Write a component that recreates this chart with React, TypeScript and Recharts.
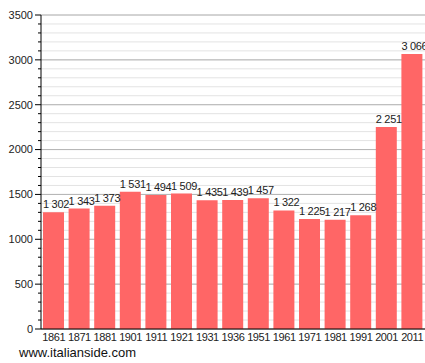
import { BarChart, Bar, XAxis, YAxis, CartesianGrid, LabelList } from 'recharts';

const years = ['1861', '1871', '1881', '1901', '1911', '1921', '1931', '1936', '1951', '1961', '1971', '1981', '1991', '2001', '2011'];
const population = [1302, 1343, 1373, 1531, 1494, 1509, 1435, 1439, 1457, 1322, 1225, 1217, 1268, 2251, 3066];
const majorTicks = [0, 500, 1000, 1500, 2000, 2500, 3000, 3500];
const minorTicks = Array.from({ length: 36 }, (_, i) => i * 100);

const data = years.map((year, i) => ({ year, value: population[i] }));

const FONT = '"Liberation Sans", Arial, sans-serif';

const fmt = (v: number) => String(v).replace(/\B(?=(\d{3})+(?!\d))/g, '\u00a0');

function YTick(props: any) {
  const { x, y, payload } = props;
  const major = payload.value % 500 === 0;
  return (
    <g>
      <line x1={major ? x - 6 : x - 3} x2={x} y1={y} y2={y} stroke="#000" />
      {major && (
        <text x={x - 8} y={y} dy="0.35em" textAnchor="end" fontSize={11} fill="#222" fontFamily={FONT}>
          {payload.value}
        </text>
      )}
    </g>
  );
}

// value labels sit left-aligned on the bar's left edge, like the original
function ValueLabel(props: any) {
  const { x, y, value } = props;
  return (
    <text x={x} y={y - 4} textAnchor="start" fontSize={11} fill="#222" fontFamily={FONT} letterSpacing={-0.3}>
      {fmt(Number(value))}
    </text>
  );
}

export default function App() {
  return (
    <div style={{ position: 'absolute', left: 0, top: 0, width: 425, height: 363, background: '#fff' }}>
      <BarChart width={425} height={363} data={data} margin={{ top: 15, right: 0, bottom: 0, left: 0 }}>
        <CartesianGrid vertical={false} stroke="#e3e3e3" horizontalValues={minorTicks} />
        <CartesianGrid vertical={false} stroke="#b4b4b4" horizontalValues={majorTicks} />
        <XAxis
          dataKey="year"
          height={34}
          tickLine={false}
          tickSize={0}
          tickMargin={4}
          axisLine={{ stroke: '#000' }}
          tick={{ fontSize: 11, fill: '#222', fontFamily: FONT, letterSpacing: -0.4 }}
          interval={0}
        />
        <YAxis
          width={41}
          domain={[0, 3500]}
          ticks={minorTicks}
          interval={0}
          tickLine={false}
          tickSize={0}
          tickMargin={0}
          axisLine={{ stroke: '#000' }}
          tick={<YTick />}
        />
        <Bar dataKey="value" fill="#ff6666" barSize={21} isAnimationActive={false}>
          <LabelList dataKey="value" content={<ValueLabel />} />
        </Bar>
      </BarChart>
      <div style={{ position: 'absolute', left: 19, top: 345, fontSize: 13, fontFamily: FONT, color: '#111', lineHeight: '16px' }}>
        www.italianside.com
      </div>
    </div>
  );
}
